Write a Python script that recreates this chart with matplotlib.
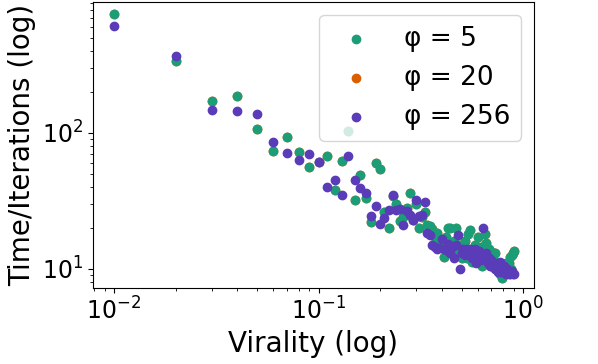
import numpy as np
import matplotlib
matplotlib.use("Agg")
import matplotlib.pyplot as plt

# Data
virality = np.round(np.arange(1, 91) * 0.01, 2)

time_phi5 = [750, 340, 171, 188, 107, 73, 93, 72, 56, 61,
             68, 38, 62, 104, 32, 49, 33, 22, 60, 54.5,
             26, 20, 34, 30, 22.4, 24, 28, 36, 23, 29.7,
             20, 24, 26, 21, 20.6, 19.5, 17, 18.2, 16, 15,
             12.2, 17, 20, 20, 14, 16, 20, 13, 15, 12,
             13.5, 16, 12, 18, 19.4, 11.1, 11.5, 15, 12.5, 17.2,
             13, 14.5, 10.5, 12, 18, 15.5, 11, 13.9, 12, 10.5,
             11.5, 13.1, 13, 10, 11, 9.5, 9.1, 10, 8.6, 10.5,
             9.5, 11, 10, 9.5, 11, 12.1, 10, 12.5, 13.1, 13.5]

# phi = 20 is completely hidden beneath the other two series
time_phi20 = list(time_phi5)

time_phi256 = [611, 368, 148, 146, 137, 85.5, 71.5, 63.5, 70, 61,
               40, 45, 35, 67, 45, 39.5, 36, 24.4, 29, 21.2,
               23.7, 27, 34.8, 27, 27.5, 20.8, 26.5, 25, 23, 32,
               24.4, 25, 31, 18.4, 17.8, 15, 14.5, 14, 14.2, 16.5,
               14, 13.8, 15.3, 13, 14.5, 12, 15, 17.7, 10, 13,
               14, 12.5, 14, 13.5, 14, 12, 13, 14, 11, 12,
               13.5, 11.5, 12, 20, 12.5, 13, 11, 12, 10.4, 11.5,
               10.5, 11, 10, 10.5, 9.5, 10, 11.1, 9.5, 10, 9.5,
               10.5, 9.2, 10, 9.5, 9.2, 9.1, 9.5, 9.6, 9.2, 9.1]

labels = ["φ = 5", "φ = 20", "φ = 256"]
colors = ["#1b9e77", "#d95f02", "#5a3bb8"]

fig = plt.figure(figsize=(5.98, 3.64), dpi=100)
ax = fig.add_axes([93 / 598, 76 / 364, 441 / 598, 286 / 364])

ax.scatter(virality, time_phi20, color=colors[1], label=labels[1], zorder=1)
ax.scatter(virality, time_phi5, color=colors[0], label=labels[0], zorder=2)
ax.scatter(virality, time_phi256, color=colors[2], label=labels[2], zorder=3)

ax.set_xscale("log")
ax.set_yscale("log")
ax.set_xlim(0.0079, 1.13)
ax.set_ylim(7.2, 920)

ax.set_xlabel("Virality (log)", fontsize=20)
ax.set_ylabel("Time/Iterations (log)", fontsize=20)
ax.tick_params(axis="both", which="major", labelsize=17)

# legend order: 5, 20, 256
h, l = ax.get_legend_handles_labels()
order = [l.index(t) for t in labels]
ax.legend([h[i] for i in order], [l[i] for i in order], loc="upper right", fontsize=19)

fig.savefig("out.png", dpi=100)
